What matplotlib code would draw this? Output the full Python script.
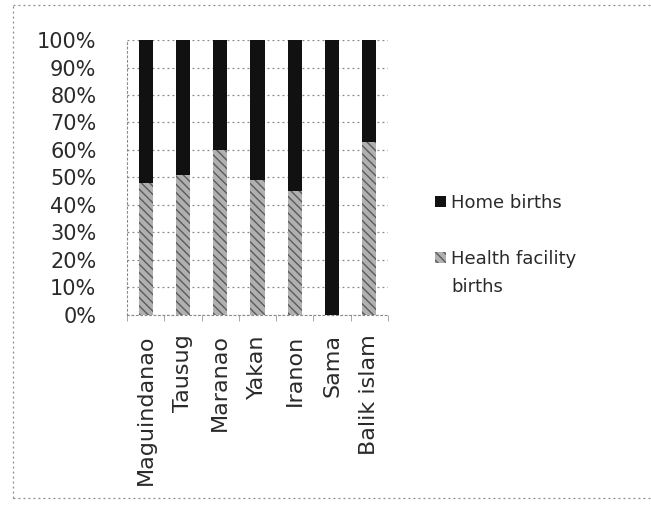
import numpy as np
import matplotlib.pyplot as plt
from matplotlib.lines import Line2D

plt.rcParams['font.family'] = ['DejaVu Sans']
plt.rcParams['hatch.linewidth'] = 1.0

groups = ['Maguindanao', 'Tausug', 'Maranao', 'Yakan', 'Iranon', 'Sama', 'Balik islam']
facility = [48, 51, 60, 49, 45, 0, 63]
home = [100 - v for v in facility]
yticks = [0, 10, 20, 30, 40, 50, 60, 70, 80, 90, 100]

fig = plt.figure(figsize=(6.51, 5.07), dpi=100)
ax = fig.add_axes([0.195, 0.379, 0.401, 0.542])

x = np.arange(len(groups))
w = 0.38
b1 = ax.bar(x, facility, w, color='#b0b0b0', edgecolor='#5a5a5a', hatch='\\\\\\\\', linewidth=0,
            label='Health facility', zorder=3)
b2 = ax.bar(x, home, w, bottom=facility, color='#111111', linewidth=0,
            label='Home births', zorder=3)

ax.set_xlim(-0.5, len(groups) - 0.5)
ax.set_ylim(0, 100)
ax.set_yticks(yticks)
ax.set_yticklabels([f'{t}%' for t in yticks], fontsize=15, color='#2a2a2a')
ax.set_xticks(x)
ax.set_xticklabels(groups, rotation=90, fontsize=16, color='#2a2a2a')
ax.tick_params(axis='y', length=0, pad=22)
ax.tick_params(axis='x', length=0, pad=14)
ax.set_xticks(np.arange(len(groups) + 1) - 0.5, minor=True)
ax.tick_params(axis='x', which='minor', length=4, color='#999999', direction='out')

ax.grid(axis='y', linestyle=(0, (1.5, 2.5)), color='#888888', linewidth=0.9, zorder=0)
for s in ['top', 'right']:
    ax.spines[s].set_visible(False)
for s in ['left', 'bottom']:
    ax.spines[s].set_linestyle((0, (1.5, 2.5)))
    ax.spines[s].set_color('#888888')

ax.legend(handles=[b2, b1], loc='upper left', bbox_to_anchor=(0.643, 0.65),
          bbox_transform=fig.transFigure, frameon=False,
          fontsize=13, handlelength=0.6, handleheight=0.6, handletextpad=0.3,
          labelspacing=2.1, labelcolor='#2a2a2a')
# second line of the facility label, marker stays on the first line
fig.text(0.693, 0.434, 'births', fontsize=13, color='#2a2a2a', va='center', ha='left')

# dotted frame around the chart
frame = dict(color='#888888', linestyle=(0, (1.5, 2.5)), linewidth=0.9, transform=fig.transFigure)
fig.add_artist(Line2D([0.02, 0.02], [0.018, 0.99], **frame))
fig.add_artist(Line2D([0.02, 1.0], [0.99, 0.99], **frame))
fig.add_artist(Line2D([0.02, 1.0], [0.018, 0.018], **frame))

fig.savefig('out.png', dpi=100)
